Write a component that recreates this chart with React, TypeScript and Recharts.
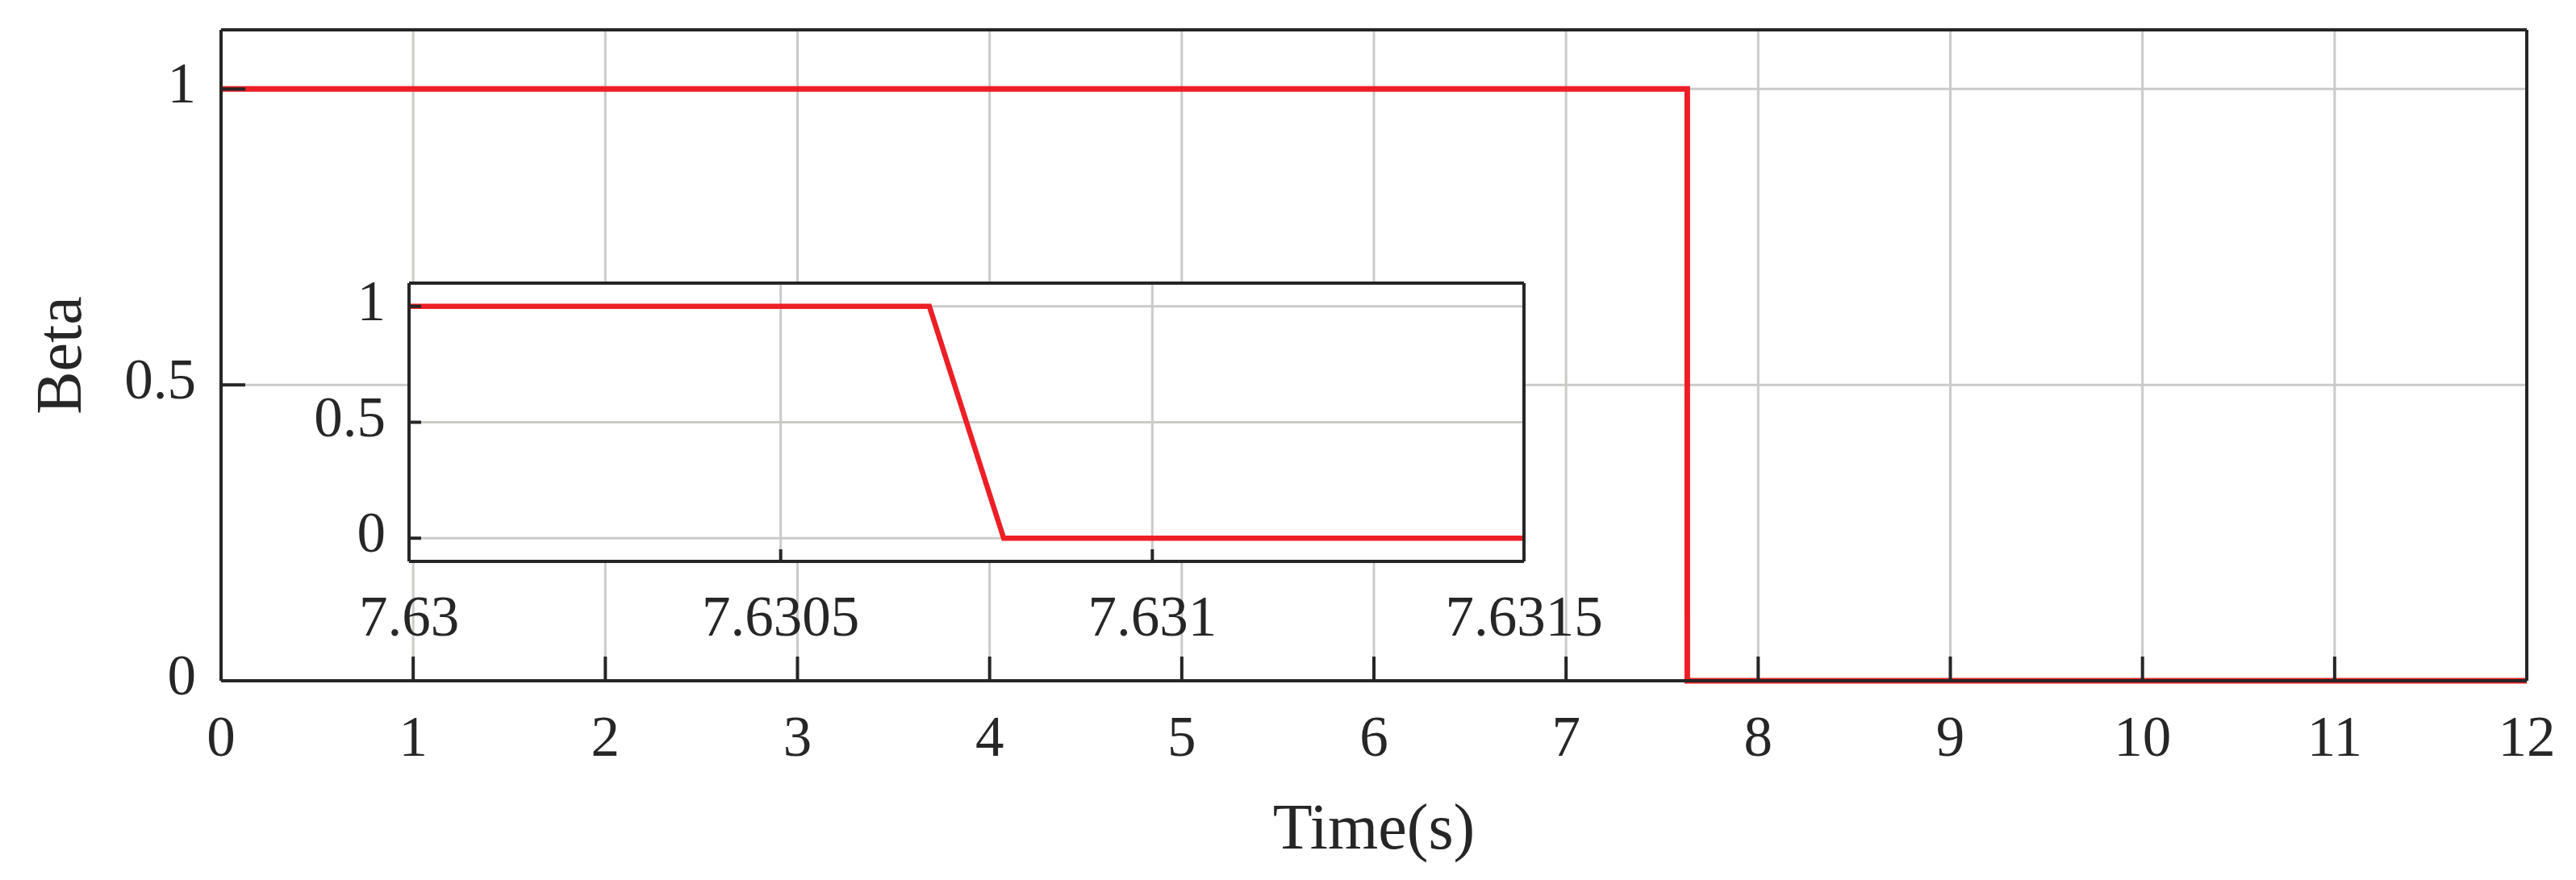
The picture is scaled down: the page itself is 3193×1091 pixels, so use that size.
import React from 'react';
import { LineChart, Line, XAxis, YAxis, CartesianGrid, Label } from 'recharts';

// ---- data ----
const mainTime = [0, 7.6307, 7.6308, 12];
const mainBeta = [1, 1, 0, 0];
const insetTime = [7.63, 7.6307, 7.6308, 7.6315];
const insetBeta = [1, 1, 0, 0];

const mainXTicks = [0, 1, 2, 3, 4, 5, 6, 7, 8, 9, 10, 11, 12];
const mainYTicks = [0, 0.5, 1];
const insetXTicks = [7.63, 7.6305, 7.631, 7.6315];
const insetYTicks = [0, 0.5, 1];

const xTitle = 'Time(s)';
const yTitle = 'Beta';

// ---- styles ----
const FONT = '"Liberation Serif", "Times New Roman", serif';
const INK = '#262626';
const GRID = '#cbcac8';
const RED = '#ed1f26';
const TICK_FS = 71;
const TITLE_FS = 80;

const mainData = mainTime.map((t, i) => ({ t, beta: mainBeta[i] }));
const insetData = insetTime.map((t, i) => ({ t, beta: insetBeta[i] }));

const fmt = (v: number) => String(v);

const makeBottomTick = (baseline: number) => (props: any) => {
  const { x, y, payload } = props;
  return (
    <text x={x} y={y + baseline} textAnchor="middle" fontFamily={FONT} fontSize={TICK_FS} fill={INK}>
      {fmt(payload.value)}
    </text>
  );
};

const makeLeftTick = (baseline: number) => (props: any) => {
  const { x, y, payload } = props;
  return (
    <text x={x} y={y + baseline} textAnchor="end" fontFamily={FONT} fontSize={TICK_FS} fill={INK}>
      {fmt(payload.value)}
    </text>
  );
};

const XTitle = (props: any) => {
  const vb = props.viewBox || { x: 274, y: 844, width: 2858, height: 247 };
  return (
    <text x={vb.x + vb.width / 2} y={vb.y + 208} textAnchor="middle" fontFamily={FONT} fontSize={TITLE_FS} fill={INK}>
      {xTitle}
    </text>
  );
};

const YTitle = (props: any) => {
  const vb = props.viewBox || { x: 0, y: 37, width: 274, height: 807 };
  const cx = vb.x + 100;
  const cy = vb.y + vb.height / 2;
  return (
    <text x={cx} y={cy} transform={`rotate(-90 ${cx} ${cy})`} textAnchor="middle" fontFamily={FONT} fontSize={TITLE_FS} fill={INK}>
      {yTitle}
    </text>
  );
};

const axisLine = { stroke: INK, strokeWidth: 4 };
const tickLine = { stroke: INK, strokeWidth: 4 };

export default function App() {
  return (
    <div style={{ position: 'absolute', left: 0, top: 0, width: 3193, height: 1091, background: '#fff' }}>
      <div style={{ position: 'absolute', left: 0, top: 0 }}>
        <LineChart width={3193} height={1091} data={mainData} margin={{ top: 36, right: 60, bottom: 0, left: 0 }}>
          <CartesianGrid stroke={GRID} strokeWidth={3} />
          <XAxis
            dataKey="t"
            type="number"
            domain={[0, 12]}
            ticks={mainXTicks}
            interval={0}
            height={247}
            tickSize={-30}
            tickMargin={30}
            axisLine={axisLine}
            tickLine={tickLine}
            tick={makeBottomTick(93)}
          >
            <Label content={XTitle} />
          </XAxis>
          <XAxis
            xAxisId="top"
            orientation="top"
            dataKey="t"
            type="number"
            domain={[0, 12]}
            ticks={mainXTicks}
            interval={0}
            height={1}
            tickSize={-30}
            axisLine={axisLine}
            tickLine={tickLine}
            tick={false}
          />
          <YAxis
            type="number"
            domain={[0, 1.1]}
            ticks={mainYTicks}
            interval={0}
            width={274}
            tickSize={-30}
            tickMargin={61}
            axisLine={axisLine}
            tickLine={tickLine}
            tick={makeLeftTick(17)}
          >
            <Label content={YTitle} />
          </YAxis>
          <YAxis
            yAxisId="right"
            orientation="right"
            type="number"
            domain={[0, 1.1]}
            ticks={mainYTicks}
            interval={0}
            width={1}
            tickSize={-30}
            axisLine={axisLine}
            tickLine={tickLine}
            tick={false}
          />
          <Line
            dataKey="beta"
            type="linear"
            stroke={RED}
            strokeWidth={7}
            dot={false}
            activeDot={false}
            isAnimationActive={false}
          />
        </LineChart>
      </div>
      <div style={{ position: 'absolute', left: 300, top: 300 }}>
        <LineChart width={1740} height={520} data={insetData} margin={{ top: 50, right: 150, bottom: 0, left: 0 }}>
          <CartesianGrid stroke={GRID} strokeWidth={3} fill="#ffffff" fillOpacity={1} />
          <XAxis
            dataKey="t"
            type="number"
            domain={[7.63, 7.6315]}
            ticks={insetXTicks}
            interval={0}
            height={124}
            tickSize={-15}
            tickMargin={15}
            axisLine={axisLine}
            tickLine={tickLine}
            tick={makeBottomTick(92)}
          />
          <XAxis
            xAxisId="top"
            orientation="top"
            dataKey="t"
            type="number"
            domain={[7.63, 7.6315]}
            ticks={insetXTicks}
            interval={0}
            height={1}
            tickSize={-15}
            axisLine={axisLine}
            tickLine={tickLine}
            tick={false}
          />
          <YAxis
            type="number"
            domain={[-0.1, 1.1]}
            ticks={insetYTicks}
            interval={0}
            width={207}
            tickSize={-15}
            tickMargin={44}
            axisLine={axisLine}
            tickLine={tickLine}
            tick={makeLeftTick(17)}
          />
          <YAxis
            yAxisId="right"
            orientation="right"
            type="number"
            domain={[-0.1, 1.1]}
            ticks={insetYTicks}
            interval={0}
            width={1}
            tickSize={-15}
            axisLine={axisLine}
            tickLine={tickLine}
            tick={false}
          />
          <Line
            dataKey="beta"
            type="linear"
            stroke={RED}
            strokeWidth={6.5}
            dot={false}
            activeDot={false}
            isAnimationActive={false}
          />
        </LineChart>
      </div>
    </div>
  );
}
